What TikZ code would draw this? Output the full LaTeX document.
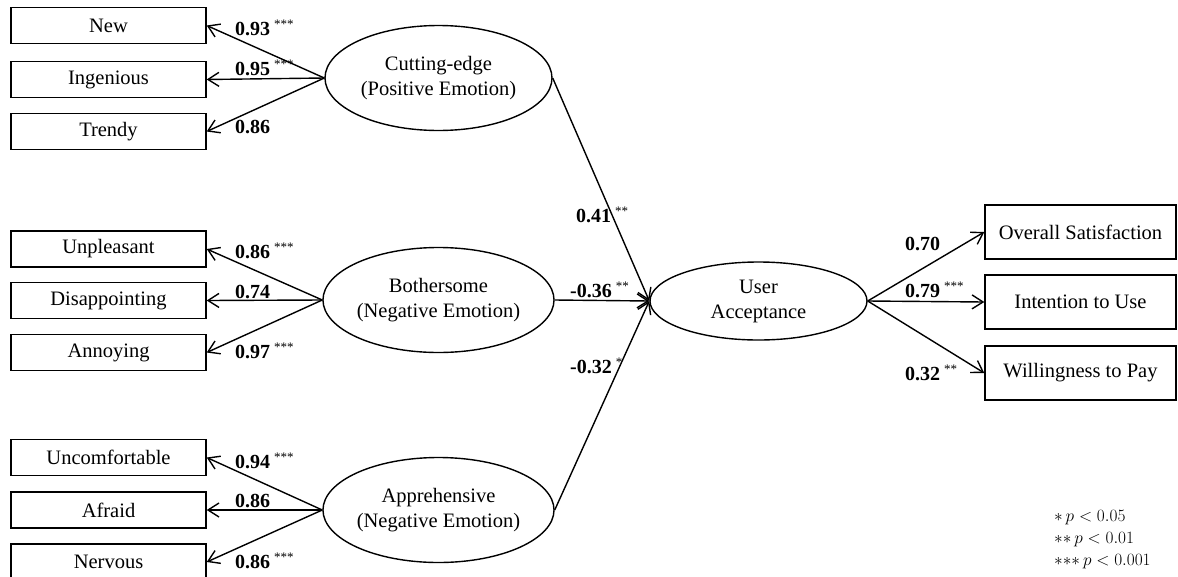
\documentclass[tikz,border=0pt]{standalone}
\usepackage{fontspec}
\setmainfont{Liberation Serif}
\usetikzlibrary{shapes.geometric,arrows.meta}
\newcommand{\sigstars}[1]{\hspace{4pt}\raisebox{7pt}{\fontsize{13}{13}\selectfont\mdseries #1}}
\newcommand{\oast}{\mathord{\ast}}
\begin{document}
\begin{tikzpicture}[x=1pt,y=-1pt,
  box/.style={draw,line width=1.4pt,rectangle,minimum width=195pt,minimum height=36pt,inner sep=0pt,font=\fontsize{20.5}{25}\selectfont},
  rbox/.style={box,minimum width=191pt,minimum height=54pt},
  latent/.style={draw,line width=1.4pt,ellipse,minimum width=227pt,minimum height=105pt,inner sep=0pt,align=center,font=\fontsize{20.5}{25}\selectfont},
  arr/.style={line width=1.4pt,-{Straight Barb[length=11pt,width=14pt]}},
  coef/.style={anchor=base west,inner sep=0pt,font=\fontsize{20}{24}\selectfont\bfseries},
  note/.style={anchor=base west,inner sep=0pt,font=\fontsize{19}{22}\selectfont}]
\clip (0,0) rectangle (1178,576);
\fill[white] (0,0) rectangle (1178,576);

% left indicator boxes
\node[box] (new) at (108.5,25.5) {New};
\node[box] (ing) at (108.5,79.5) {Ingenious};
\node[box] (tre) at (108.5,131.5) {Trendy};
\node[box] (unp) at (108.5,249) {Unpleasant};
\node[box] (dis) at (108.5,300.5) {Disappointing};
\node[box] (ann) at (108.5,352.5) {Annoying};
\node[box] (unc) at (108.5,457.5) {Uncomfortable};
\node[box] (afr) at (108.5,510) {Afraid};
\node[box] (ner) at (108.5,562) {Nervous};

% latent variables
\node[latent] (cut) at (438.5,78) {Cutting-edge\\(Positive Emotion)};
\node[latent] (bot) at (438.5,300) {Bothersome\\(Negative Emotion)};
\node[latent] (app) at (438.5,510) {Apprehensive\\(Negative Emotion)};
\node[latent,minimum width=217pt,minimum height=78pt] (ua) at (758.5,301) {User\\Acceptance};

% right outcome boxes
\node[rbox] (ovs) at (1080.5,232) {Overall Satisfaction};
\node[rbox] (itu) at (1080.5,302) {Intention to Use};
\node[rbox] (wtp) at (1080.5,373) {Willingness to Pay};

% connectors
\draw[arr] (cut.west) -- (new.east);
\draw[arr] (cut.west) -- (ing.east);
\draw[arr] (cut.west) -- (tre.east);
\draw[arr] (bot.west) -- (unp.east);
\draw[arr] (bot.west) -- (dis.east);
\draw[arr] (bot.west) -- (ann.east);
\draw[arr] (app.west) -- (unc.east);
\draw[arr] (app.west) -- (afr.east);
\draw[arr] (app.west) -- (ner.east);
\draw[arr] (cut.east) -- (ua.west);
\draw[arr] (bot.east) -- (ua.west);
\draw[arr] (app.east) -- (ua.west);
\draw[arr] (ua.east) -- (ovs.west);
\draw[arr] (ua.east) -- (itu.west);
\draw[arr] (ua.east) -- (wtp.west);

% coefficients
\node[coef] (c1) at (235,35) {0.93\sigstars{***}};
\node[coef] (c2) at (235,75) {0.95\sigstars{***}};
\node[coef] (c3) at (235,133) {0.86};
\node[coef] (c4) at (235,258) {0.86\sigstars{***}};
\node[coef] (c5) at (235,298) {0.74};
\node[coef] (c6) at (235,358) {0.97\sigstars{***}};
\node[coef] (c7) at (235,468) {0.94\sigstars{***}};
\node[coef] (c8) at (235,507) {0.86};
\node[coef] (c9) at (235,568) {0.86\sigstars{***}};
\node[coef] (m1) at (576,222) {0.41\sigstars{**}};
\node[coef] (m2) at (570,297) {-0.36\sigstars{**}};
\node[coef] (m3) at (570,373) {-0.32\sigstars{*}};
\node[coef] (r1) at (905,250) {0.70};
\node[coef] (r2) at (905,297) {0.79\sigstars{***}};
\node[coef] (r3) at (905,380) {0.32\sigstars{**}};

% legend
\node[note] (l1) at (1054,521) {$\oast\,p<0.05$};
\node[note] (l2) at (1054,543) {$\oast\oast\,p<0.01$};
\node[note] (l3) at (1054,565) {$\oast\oast\oast\,p<0.001$};
\end{tikzpicture}
\end{document}
